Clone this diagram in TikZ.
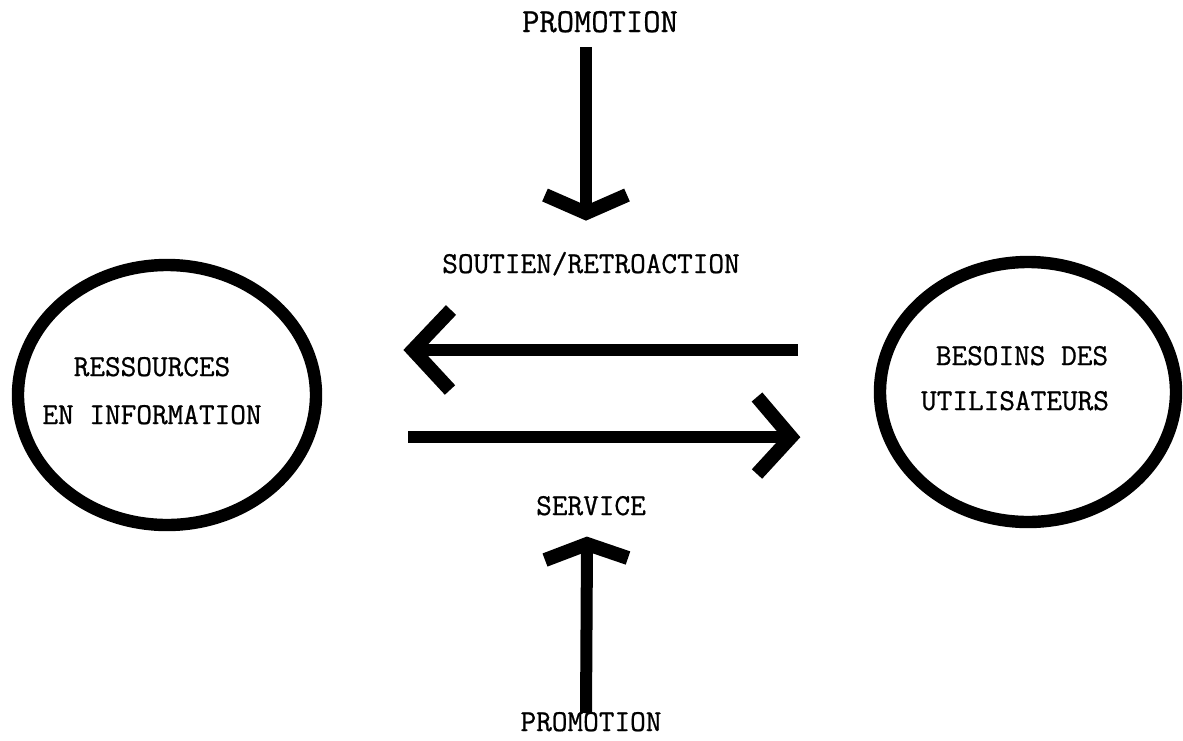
\documentclass[tikz,border=0pt]{standalone}
\usepackage{fontspec}
\newfontfamily\typefont[FakeBold=0.8]{Latin Modern Mono}
\usetikzlibrary{shapes.geometric}
\begin{document}
\begin{tikzpicture}[x=0.5pt,y=-0.5pt,
  word/.style={anchor=base,inner sep=0pt,font=\typefont\fontsize{15.2pt}{18pt}\selectfont},
  shaft/.style={line width=6pt,line cap=butt},
  barb/.style={line width=7pt,line cap=butt,line join=miter}]
\useasboundingbox (0,0) rectangle (1183,740);

% the two poles
\draw[line width=6.2pt] (167,395) ellipse [x radius=149, y radius=130];
\draw[line width=6.2pt] (1028,392) ellipse [x radius=148, y radius=130];
\coordinate (res) at (167,395);
\coordinate (bes) at (1028,392);

% texts inside the poles
\node[word] (res1) at (152,376) {RESSOURCES};
\node[word] (res2) at (152,424) {EN INFORMATION};
\node[word] (bes1) at (1022,365) {BESOINS DES};
\node[word] (bes2) at (1015,410) {UTILISATEURS};

% labels along the vertical axis
\node[word,font=\typefont\fontsize{16.8pt}{20pt}\selectfont] (promtop) at (600,32) {PROMOTION};
\node[word] (soutien) at (591,273) {SOUTIEN/RETROACTION};
\node[word] (service) at (591,515) {SERVICE};
\node[word] (prombot) at (591,731) {PROMOTION};

% arrow ends
\coordinate (topstart) at (586,47);
\coordinate (toptip) at (586,213);
\coordinate (botstart) at (586,713);
\coordinate (bottip) at (587,544);
\coordinate (fbstart) at (798,350);
\coordinate (fbtip) at (413,350);
\coordinate (svstart) at (408,437);
\coordinate (svtip) at (791,437);

% downward arrow from the top
\draw[shaft] (topstart) -- (toptip);
\draw[barb] (545,195) -- (toptip) -- (627,195);

% upward arrow from the bottom
\draw[shaft] (botstart) -- (bottip);
\draw[barb] (545,560) -- (bottip) -- (628,558);

% feedback arrow pointing left
\draw[shaft] (fbstart) -- (fbtip);
\draw[barb] (451,310) -- (fbtip) -- (450,390);

% service arrow pointing right
\draw[shaft] (svstart) -- (svtip);
\draw[barb] (757,397) -- (svtip) -- (757,474);
\end{tikzpicture}
\end{document}
